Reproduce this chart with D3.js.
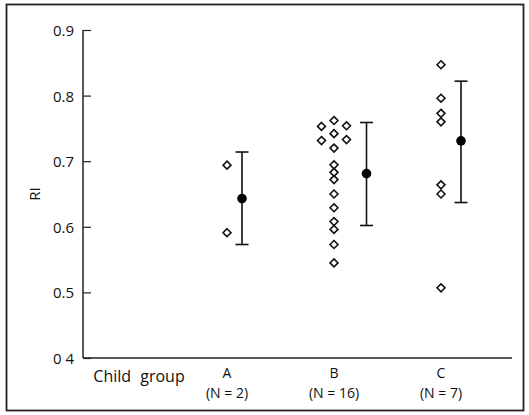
<!DOCTYPE html>
<html>
<head>
<meta charset="utf-8">
<script src="https://cdn.jsdelivr.net/npm/d3@7"></script>
<style>
  body { margin: 0; background: white; }
  text { font-family: "Open Sans", "DejaVu Sans", sans-serif; fill: #111; }
</style>
</head>
<body>
<div id="chart"></div>
<script>
// data
var groups = ["A", "B", "C"],
    groupN = ["(N = 2)", "(N = 16)", "(N = 7)"];

var valuesA = [0.694, 0.591],
    valuesB = [0.762, 0.754, 0.753, 0.742, 0.733, 0.7315, 0.720, 0.6945, 0.683, 0.672,
               0.650, 0.629, 0.608, 0.596, 0.573, 0.545],
    valuesC = [0.847, 0.796, 0.773, 0.760, 0.664, 0.650, 0.507];

var means = [0.643, 0.681, 0.731],
    barLow = [0.573, 0.602, 0.637],
    barHigh = [0.714, 0.759, 0.822];

var yTicks = [0.4, 0.5, 0.6, 0.7, 0.8, 0.9],
    yTickLabels = ["0 4", "0.5", "0.6", "0.7", "0.8", "0.9"];
//

var width = 529,
    height = 415;

var svg = d3.select("#chart").append("svg")
    .attr("width", width)
    .attr("height", height)
    .style("background", "white");

// outer frame
svg.append("rect")
    .attr("x", 6.5)
    .attr("y", 4.5)
    .attr("width", 517)
    .attr("height", 406)
    .style("fill", "none")
    .style("stroke", "#222")
    .style("stroke-width", 1.8);

var y = d3.scaleLinear().domain([0.4, 0.9]).range([358, 30]);
var x = d3.scalePoint().domain(groups).range([227, 441]);

var axisX0 = 83;

// y axis, ticks pointing inward
var yAxis = d3.axisRight(y)
    .tickValues(yTicks)
    .tickSize(8)
    .tickFormat(function(d, i) { return yTickLabels[i]; });

var gy = svg.append("g")
    .attr("transform", "translate(" + axisX0 + ",0)")
    .call(yAxis);
gy.select(".domain").remove();
gy.selectAll("line").style("stroke", "#222").style("stroke-width", 1.2);
gy.selectAll("text")
    .attr("x", -9)
    .attr("dy", "0.36em")
    .style("text-anchor", "end")
    .style("font-size", "15px");

svg.append("line")
    .attr("x1", axisX0).attr("x2", axisX0)
    .attr("y1", y(0.9)).attr("y2", y(0.4))
    .style("stroke", "#222")
    .style("stroke-width", 1.5);

// x axis line
svg.append("line")
    .attr("x1", axisX0).attr("x2", 512)
    .attr("y1", y(0.4)).attr("y2", y(0.4))
    .style("stroke", "#222")
    .style("stroke-width", 1.5);

// y label
svg.append("text")
    .attr("transform", "translate(40," + y(0.65) + ") rotate(-90)")
    .style("text-anchor", "middle")
    .style("font-size", "15px")
    .text("RI");

// x labels
svg.append("text")
    .attr("x", 139)
    .attr("y", 382)
    .style("text-anchor", "middle")
    .style("font-size", "16px")
    .style("word-spacing", "5px")
    .text("Child group");

groups.forEach(function(gName, i) {
    svg.append("text")
        .attr("x", x(gName))
        .attr("y", 378)
        .style("text-anchor", "middle")
        .style("font-size", "14px")
        .text(gName);
    svg.append("text")
        .attr("x", x(gName))
        .attr("y", 398)
        .style("text-anchor", "middle")
        .style("font-size", "14px")
        .text(groupN[i]);
});

// simple dodge so touching diamonds sit side by side
function dodge(vals) {
    var placed = [];
    var cols = [0, 1, -1];
    vals.slice().sort(function(a, b) { return b - a; }).forEach(function(v) {
        for (var c = 0; c < cols.length; c++) {
            var hit = placed.some(function(p) {
                return p.col === cols[c] && Math.abs(y(p.v) - y(v)) < 7;
            });
            if (!hit) { placed.push({ v: v, col: cols[c] }); return; }
        }
        placed.push({ v: v, col: 0 });
    });
    return placed;
}

var allValues = [valuesA, valuesB, valuesC];
var diamond = d3.symbol().type(d3.symbolDiamond2).size(40);

groups.forEach(function(gName, i) {
    var pts = dodge(allValues[i]);
    var cx = x(gName);
    var maxCol = d3.max(pts, function(p) { return p.col; });

    svg.append("g").selectAll("path")
        .data(pts)
        .enter().append("path")
        .attr("d", diamond)
        .attr("transform", function(p) {
            return "translate(" + (cx + p.col * 12.5) + "," + y(p.v) + ")";
        })
        .style("fill", "white")
        .style("stroke", "#111")
        .style("stroke-width", 1.6);

    // mean and error bar
    var mx = cx + maxCol * 12.5 + 15 + (maxCol > 0 ? 5 : 0);
    if (i === 2) mx = cx + 20;
    var capW = 6.5;
    var eg = svg.append("g").style("stroke", "#111").style("stroke-width", 1.6);
    eg.append("line")
        .attr("x1", mx).attr("x2", mx)
        .attr("y1", y(barHigh[i])).attr("y2", y(barLow[i]));
    eg.append("line")
        .attr("x1", mx - capW).attr("x2", mx + capW)
        .attr("y1", y(barHigh[i])).attr("y2", y(barHigh[i]));
    eg.append("line")
        .attr("x1", mx - capW).attr("x2", mx + capW)
        .attr("y1", y(barLow[i])).attr("y2", y(barLow[i]));
    svg.append("circle")
        .attr("cx", mx)
        .attr("cy", y(means[i]))
        .attr("r", 4.8)
        .style("fill", "#000");
});
</script>
</body>
</html>
